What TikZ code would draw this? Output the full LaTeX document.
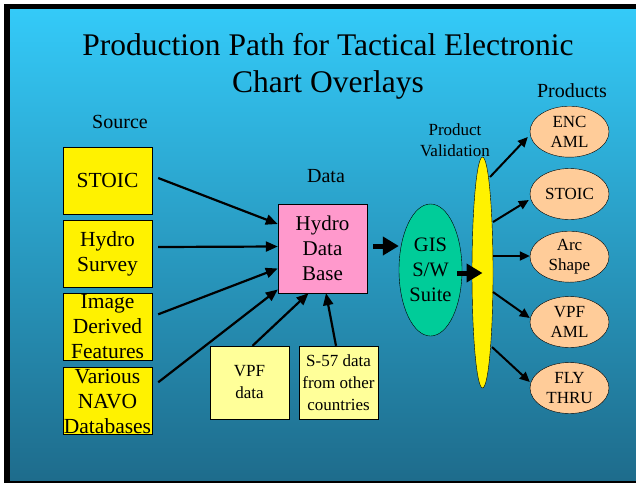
\documentclass[tikz,border=0pt]{standalone}
\usepackage{fontspec}
\setmainfont{Liberation Serif}
\usetikzlibrary{arrows.meta,shapes.geometric}
\definecolor{bgtop}{RGB}{52,202,248}
\definecolor{bgbot}{RGB}{30,108,140}
\definecolor{hdbpink}{RGB}{255,153,204}
\definecolor{paleyellow}{RGB}{255,255,153}
\definecolor{gisgreen}{RGB}{0,204,153}
\definecolor{peach}{RGB}{255,204,153}

\begin{document}
\begin{tikzpicture}[x=1pt,y=-1pt]
\tikzset{srcbox/.style={draw, fill=yellow, minimum width=89pt, minimum height=67pt, inner xsep=0pt, inner ysep=-5pt, align=center, font=\fontsize{21.5}{25}\selectfont},
  databox/.style={draw, fill=paleyellow, minimum width=79pt, minimum height=73pt, inner sep=0pt, align=center, font=\fontsize{17}{22}\selectfont},
  prodell/.style={draw, ellipse, fill=peach, minimum width=79pt, minimum height=51pt, inner sep=-1pt, align=center, font=\fontsize{17}{20}\selectfont},
  lbl/.style={font=\fontsize{20}{24}\selectfont},
  thinarr/.style={line width=2.2pt, -{Triangle[length=12pt,width=10pt]}},
  prodarr/.style={line width=2pt, -{Triangle[length=10pt,width=9pt]}},
  thickarr/.style={line width=5pt, -{Triangle[length=16pt,width=18pt]}}}
\useasboundingbox (0,0) rectangle (636,483);
\fill[white] (0,0) rectangle (636,483);
\fill[black] (4,4) rectangle (636,483);
\shade[top color=bgtop, bottom color=bgbot] (10,9) rectangle (636,480);
\node[align=center, font=\fontsize{31.5}{37}\selectfont] (title) at (328,66) {Production Path for Tactical Electronic\\Chart Overlays};
\node[lbl] (source) at (120,122) {Source};
\node[lbl] (data) at (326,176) {Data};
\node[lbl] (products) at (572,91) {Products};
\node[align=center, font=\fontsize{17}{21}\selectfont] (validlbl) at (455,140) {Product\\Validation};
\node[srcbox] (stoic) at (107.5,180.5) {STOIC};
\node[srcbox] (survey) at (107.5,254) {Hydro\\Survey};
\node[srcbox] (image) at (107.5,327) {Image\\Derived\\Features};
\node[srcbox] (navo) at (107.5,401) {Various\\NAVO\\Databases};
\node[draw, fill=hdbpink, minimum width=89pt, minimum height=89pt, inner sep=0pt, align=center, font=\fontsize{21}{25}\selectfont] (hdb) at (322.5,248.5) {Hydro\\Data\\Base};
\node[databox] (vpf) at (249.5,382.5) {VPF\\data};
\node[databox] (s57) at (338.5,382.5) {S-57 data\\from other\\countries};
\node[draw, ellipse, fill=gisgreen, minimum width=63pt, minimum height=132pt, inner sep=0pt, align=center, font=\fontsize{20.5}{25}\selectfont] (gis) at (430.5,270) {GIS\\S/W\\Suite};
\node[draw, ellipse, fill=yellow, minimum width=21pt, minimum height=231pt, inner sep=0pt] (valid) at (482.5,272.5) {};
\node[prodell] (enc) at (569.5,131.7) {ENC\\AML};
\node[prodell] (stoicp) at (569.5,194) {STOIC};
\node[prodell] (arc) at (569.5,256.7) {Arc\\Shape};
\node[prodell] (vpfp) at (569.5,322) {VPF\\AML};
\node[prodell] (fly) at (569.5,388) {FLY\\THRU};
\draw[thinarr] ([xshift=6pt,yshift=2.5pt]stoic.east) -- ([yshift=24.5pt]hdb.west);
\draw[thinarr] ([xshift=6pt,yshift=7pt]survey.east) -- ([yshift=2pt]hdb.west);
\draw[thinarr] ([xshift=6pt,yshift=12.7pt]image.east) -- ([yshift=-20pt]hdb.west);
\draw[thinarr] ([xshift=6pt,yshift=18.7pt]navo.east) -- ([yshift=-41pt]hdb.west);
\draw[thinarr] ([xshift=3pt]vpf.north) -- ([xshift=-14pt]hdb.south);
\draw[thinarr] ([xshift=-2.5pt]s57.north) -- ([xshift=3.5pt]hdb.south);
\draw[thickarr] ([xshift=6pt,yshift=2.5pt]hdb.east) -- ([yshift=24pt]gis.west);
\draw[thickarr] ([xshift=-5pt,yshift=-3pt]gis.east) -- ([yshift=-0.5pt]valid.center);
\draw[prodarr] ([xshift=7.5pt,yshift=95.5pt]valid.center) -- ([xshift=-2pt,yshift=-5.3pt]enc.west);
\draw[prodarr] ([xshift=10.5pt,yshift=50.5pt]valid.center) -- ([xshift=-1pt,yshift=-6pt]stoicp.west);
\draw[prodarr] ([xshift=10.5pt,yshift=16.5pt]valid.center) -- ([yshift=0.7pt]arc.west);
\draw[prodarr] ([xshift=10.5pt,yshift=-19.5pt]valid.center) -- ([yshift=4pt]vpfp.west);
\draw[prodarr] ([xshift=9.5pt,yshift=-74.5pt]valid.center) -- ([yshift=6pt]fly.west);
\end{tikzpicture}
\end{document}
